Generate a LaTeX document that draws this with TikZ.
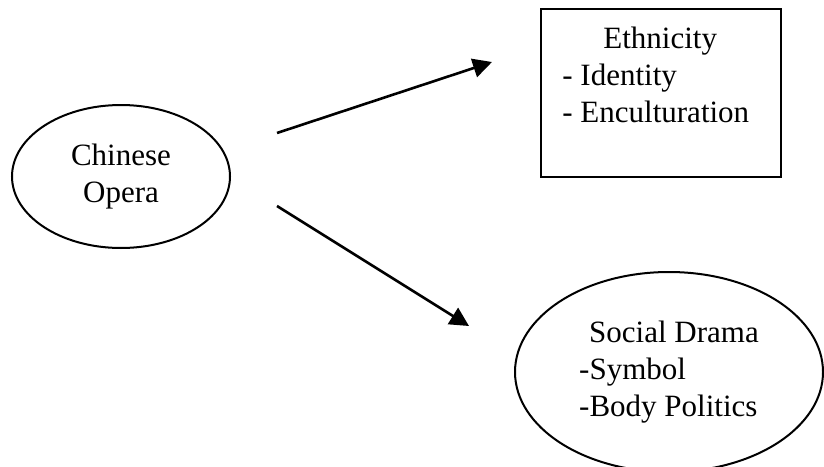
\documentclass[tikz,border=0pt]{standalone}
\usepackage{fontspec}
\setmainfont{Liberation Serif}
\usetikzlibrary{shapes.geometric,arrows.meta}

\begin{document}
\begin{tikzpicture}[x=0.5pt, y=-0.5pt,
  oval/.style={draw, ellipse, line width=1pt, inner sep=0pt},
  words/.style={font=\fontsize{15.5pt}{18.5pt}\selectfont},
  link/.style={line width=1.3pt, -{Triangle[length=9.5pt, width=9.5pt]}}]
  \useasboundingbox (0,0) rectangle (824,466);
  \node [oval, words, align=center, minimum width=109pt, minimum height=71.5pt] (opera) at (121,176.5) {Chinese\\Opera};
  \node [draw, line width=1.1pt, minimum width=120pt, minimum height=84pt] (ethnic) at (661,93) {};
  \node [words, align=left, anchor=north west, inner sep=0pt] (ethnictext) at (562,27) {\hspace*{20.5pt}Ethnicity\\- Identity\\- Enculturation};
  \node [oval, words, align=left, minimum width=154pt, minimum height=100pt] (drama) at (669,372) {\hspace*{5pt}Social Drama\\-Symbol\\-Body Politics};
  \coordinate (up-from) at (277,133);
  \coordinate (up-to) at (492,62);
  \coordinate (down-from) at (277,206);
  \coordinate (down-to) at (469,326);
  \draw [link] (up-from) -- (up-to);
  \draw [link] (down-from) -- (down-to);
\end{tikzpicture}
\end{document}
